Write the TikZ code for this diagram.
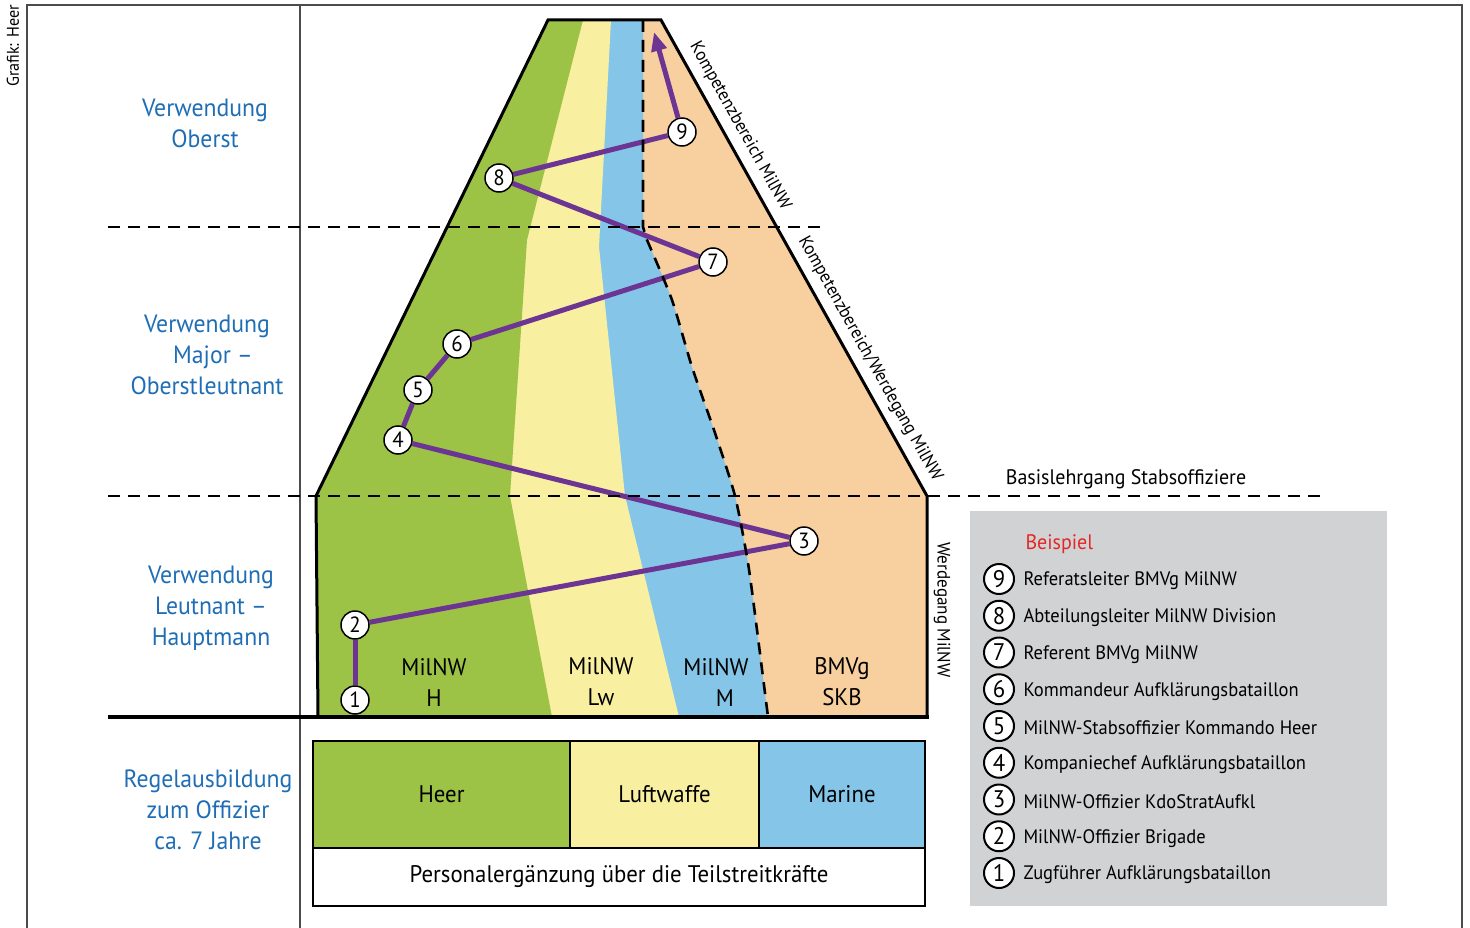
\documentclass[tikz,border=0pt]{standalone}
\usepackage{fontspec}
\setmainfont[FakeStretch=0.95]{PT Sans}
\usetikzlibrary{arrows.meta}

\definecolor{heergreen}{RGB}{157,195,70}
\definecolor{lwyellow}{RGB}{249,239,160}
\definecolor{marineblue}{RGB}{133,198,232}
\definecolor{skborange}{RGB}{248,207,158}
\definecolor{routepurple}{RGB}{108,53,147}
\definecolor{labelblue}{RGB}{31,110,181}
\definecolor{keyred}{RGB}{227,38,38}
\definecolor{keygray}{RGB}{209,210,212}

\begin{document}
\begin{tikzpicture}[x=1pt, y=-1pt, font=\fontsize{24}{31}\selectfont,
  numdot/.style={circle, draw, fill=white, line width=1.5pt, minimum size=28pt,
    inner sep=0pt, font=\fontsize{22}{22}\selectfont},
  keydot/.style={numdot, line width=2pt, minimum size=30pt, font=\fontsize{24}{24}\selectfont},
  route/.style={routepurple, line width=5pt},
  stageline/.style={line width=2.6pt, dash pattern=on 12pt off 8pt},
  framerule/.style={black!70, line width=1.5pt},
  rankbox/.style={draw, line width=2pt, outer sep=0pt, anchor=north west,
    minimum height=107pt},
  sidelabel/.style={align=center, text=labelblue, font=\fontsize{25}{31}\selectfont},
  edgelabel/.style={font=\fontsize{18}{18}\selectfont}]
\useasboundingbox (0,0) rectangle (1470,928);
% frame round the chart
\draw[framerule] (27,928) -- (27,5) -- (1462,5) -- (1462,928);
\draw[framerule] (300,5) -- (300,928);
\node[rotate=90, font=\fontsize{17}{17}\selectfont] (credit) at (13,46) {Grafik: Heer};
% the pyramid, filled band by band
\begin{scope}
  \clip (318,717) -- (316,496) -- (548,20) -- (661,20) -- (927,496) -- (927,717) -- cycle;
  \fill[skborange] (300,10) rectangle (940,720);
  \fill[marineblue] (300,10) -- (643,10) -- (643,227)
    -- plot[smooth, tension=0.4] coordinates {(647,240) (672,300) (692,367) (715,433) (735,496) (748,563) (757,630) (768,717)}
    -- (768,720) -- (300,720) -- cycle;
  \fill[lwyellow] (300,10) -- (613,10) -- (611,20) -- (599,247) -- (625,496) -- (679,717) -- (679,720) -- (300,720) -- cycle;
  \fill[heergreen] (300,10) -- (586,10) -- (583,20) -- (527,240) -- (510,496) -- (552,717) -- (552,720) -- (300,720) -- cycle;
\end{scope}
% career steps
\node[numdot] (c1) at (355,700) {1};
\node[numdot] (c2) at (355,625) {2};
\node[numdot] (c3) at (804,541) {3};
\node[numdot] (c4) at (398,440) {4};
\node[numdot] (c5) at (418,390) {5};
\node[numdot] (c6) at (457,344) {6};
\node[numdot] (c7) at (713,262) {7};
\node[numdot] (c8) at (499,178) {8};
\node[numdot] (c9) at (682,132) {9};
\coordinate (peak) at (654,32);
\foreach \a/\b in {1/2, 2/3, 3/4, 4/5, 5/6, 6/7, 7/8, 8/9}
  \draw[route] (c\a) -- (c\b);
\draw[route, -{Triangle[length=19pt, width=15pt]}] (c9) -- (peak);
% rank borders and the MilNW/BMVg border
\draw[stageline] (108,227) -- (822,227);
\draw[stageline] (108,496) -- (1325,496);
\draw[stageline] (643,20) -- (643,227)
  -- plot[smooth, tension=0.4] coordinates {(647,240) (672,300) (692,367) (715,433) (735,496) (748,563) (757,630) (768,717)};
\draw[line width=3pt, line join=miter] (318,717) -- (316,496) -- (548,20) -- (661,20) -- (927,496) -- (927,717);
\draw[line width=4pt] (108,717) -- (929,717);
% labels inside the pyramid
\node[align=center] (milh) at (434,682) {MilNW\\H};
\node[align=center] (millw) at (601,682) {MilNW\\Lw};
\node[align=center] (milm) at (716,682) {MilNW\\\hspace*{18pt}M};
\node[align=center] (bmvg) at (842,682) {BMVg\\SKB};
\node[edgelabel, rotate=-60.8] (kompmil) at (740,126) {Kompetenzbereich MilNW};
\node[edgelabel, rotate=-60.8] (kompwerd) at (870,359) {Kompetenzbereich/Werdegang MilNW};
\node[edgelabel, rotate=-90] (werdegang) at (942,610) {Werdegang MilNW};
\node[font=\fontsize{21}{21}\selectfont] (basis) at (1126,479) {Basislehrgang Stabsoffiziere};
% ranks on the left
\node[sidelabel] (oberst) at (205,123) {Verwendung\\Oberst};
\node[sidelabel] (major) at (207,355) {Verwendung\\\hspace*{12pt}Major --\\Oberstleutnant};
\node[sidelabel] (leutnant) at (211,608) {Verwendung\\Leutnant --\\Hauptmann};
\node[sidelabel] (ausbildung) at (208,810) {Regelausbildung\\zum Offizier\\ca. 7 Jahre};
% services below
\node[rankbox, fill=heergreen, minimum width=257pt] (heer) at (313,741) {Heer};
\node[rankbox, fill=lwyellow, minimum width=189pt] (luftwaffe) at (570,741) {Luftwaffe};
\node[rankbox, fill=marineblue, minimum width=166pt] (marine) at (759,741) {Marine};
\node[rankbox, fill=white, minimum width=612pt, minimum height=58pt] (ergaenzung) at (313,848) {Personalergänzung über die Teilstreitkräfte};
% key
\fill[keygray] (970,511) rectangle (1387,906);
\node[anchor=west, text=keyred, font=\fontsize{21}{21}\selectfont] (beispiel) at (1022,544) {Beispiel};
\foreach \n/\job [count=\i from 0] in {9/Referatsleiter BMVg MilNW, 8/Abteilungsleiter MilNW Division,
    7/Referent BMVg MilNW, 6/Kommandeur Aufklärungsbataillon, 5/MilNW-Stabsoffizier Kommando Heer,
    4/Kompaniechef Aufklärungsbataillon, 3/MilNW-Offizier KdoStratAufkl, 2/MilNW-Offizier Brigade,
    1/Zugführer Aufklärungsbataillon}{
  \node[keydot] (key\n) at (999,{579+36.75*\i}) {\n};
  \node[anchor=west, font=\fontsize{19.5}{19.5}\selectfont] (keytxt\n) at (1020,{581+36.75*\i}) {\job};
}
\end{tikzpicture}
\end{document}
